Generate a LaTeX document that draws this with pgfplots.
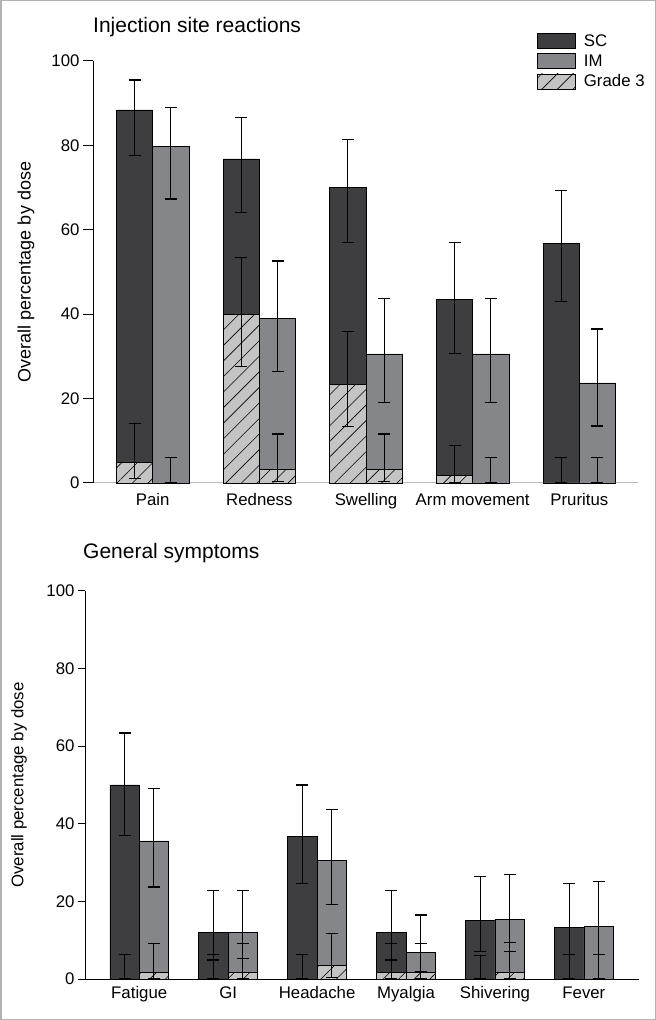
\documentclass[border=0pt]{standalone}
\usepackage{fontspec}
\setmainfont{Liberation Sans}
\usepackage{pgfplots}
\pgfplotsset{compat=1.18}
\usepackage{pgfplotstable}
\usetikzlibrary{patterns.meta}

\definecolor{scc}{HTML}{3E3E40}
\definecolor{imc}{HTML}{858689}
\definecolor{g3c}{HTML}{C4C4C4}

% sc / im = all grades, ga / gb = grade 3 (SC / IM); hi, lo = error bar ends
\pgfplotstableread{
x sc schi sclo im imhi imlo ga gahi galo gb gbhi gblo
0 88.4 95.5 77.5 79.8 89.0 67.3 4.8 14.0 1.0 0 6.0 0
1 76.8 86.7 64.0 39.0 52.6 26.5 40.0 53.5 27.5 3.3 11.6 0.3
2 70.1 81.5 56.9 30.6 43.8 19.0 23.3 36.0 13.3 3.3 11.6 0.3
3 43.4 56.9 30.6 30.6 43.8 19.0 1.7 8.8 0 0 6.0 0
4 56.7 69.4 43.1 23.7 36.5 13.5 0 6.0 0 0 6.0 0
}\injtab

\pgfplotstableread{
x sc schi sclo im imhi imlo ga gahi galo gb gbhi gblo
0 50.0 63.4 36.9 35.6 49.2 23.7 0 6.2 0 1.6 9.1 0
1 11.9 22.7 4.9 12.1 22.9 5.2 0 6.2 0 1.6 9.1 0
2 36.8 50.0 24.7 30.6 43.8 19.3 0 6.2 0 3.5 11.8 0.4
3 11.9 22.7 4.9 6.9 16.5 1.8 1.6 9.1 0 1.6 9.1 0
4 15.2 26.5 7.0 15.4 27.0 7.2 0 6.0 0 1.6 9.3 0
5 13.4 24.7 6.2 13.6 25.2 6.2 0 6.2 0 0 6.2 0
}\gentab

\newcommand\lblfont{\fontsize{16.8bp}{19bp}\selectfont}

\pgfplotsset{
  bars/.style={ybar, bar shift=0pt, draw=black, line width=0.7bp, forget plot},
  hatch/.style={bars, fill=g3c, postaction={pattern={Lines[angle=45,distance=11bp,line width=0.6bp]}, pattern color=black}},
  ebars/.style={draw=none, mark=none, forget plot, error bars/.cd, y dir=both, y explicit,
    error bar style={draw=black, line width=1.1bp},
    error mark options={rotate=90, mark size=6bp, draw=black, line width=1.1bp}},
  panel/.style={scale only axis, anchor=south west, clip=false,
    ymin=0, ymax=100, ytick={0,20,...,100},
    axis x line*=bottom, axis y line*=left,
    axis line style={-, line width=1bp},
    ytick align=outside, xtick align=inside,
    x tick style={draw=none}, y tick style={black, line width=1bp},
    tick label style={font=\lblfont},
    /pgf/number format/assume math mode=true,
    ylabel={Overall percentage by dose}},
}

\newcommand\drawpanel[2]{%
  \addplot[bars, fill=scc] table[x expr=\thisrow{x}-#2, y=sc] {#1};
  \addplot[bars, fill=imc] table[x expr=\thisrow{x}+#2, y=im] {#1};
  \addplot[hatch] table[x expr=\thisrow{x}-#2, y=ga] {#1};
  \addplot[hatch] table[x expr=\thisrow{x}+#2, y=gb] {#1};
  \addplot[ebars] table[x expr=\thisrow{x}-#2, y=sc,
    y error plus expr=\thisrow{schi}-\thisrow{sc}, y error minus expr=\thisrow{sc}-\thisrow{sclo}] {#1};
  \addplot[ebars] table[x expr=\thisrow{x}+#2, y=im,
    y error plus expr=\thisrow{imhi}-\thisrow{im}, y error minus expr=\thisrow{im}-\thisrow{imlo}] {#1};
  \addplot[ebars] table[x expr=\thisrow{x}-#2, y=ga,
    y error plus expr=\thisrow{gahi}-\thisrow{ga}, y error minus expr=\thisrow{ga}-\thisrow{galo}] {#1};
  \addplot[ebars] table[x expr=\thisrow{x}+#2, y=gb,
    y error plus expr=\thisrow{gbhi}-\thisrow{gb}, y error minus expr=\thisrow{gb}-\thisrow{gblo}] {#1};
}

\begin{document}
\begin{tikzpicture}
\useasboundingbox (0,0) rectangle (656bp,1020bp);
\draw[gray!60, line width=1.5bp] (0.75bp,0.75bp) rectangle (655.25bp,1019.25bp);

\node[anchor=base west, font=\fontsize{21bp}{24bp}\selectfont, inner sep=0pt] at (93bp,987bp) {Injection site reactions};
\node[anchor=base west, font=\fontsize{21bp}{24bp}\selectfont, inner sep=0pt] at (83bp,461bp) {General symptoms};

% injection site reactions
\begin{axis}[panel,
    at={(93bp,537bp)}, width=545bp, height=422bp,
    xmin=-0.56, xmax=4.55, bar width=0.34,
    major tick length=10bp,
    x axis line style={gray!55},
    xtick={0,...,4},
    xticklabels={Pain, Redness, Swelling, Arm movement, Pruritus},
    xticklabel style={yshift=-7bp},
    every axis y label/.style={at={(axis description cs:-0.123,0.5)}, rotate=90, anchor=center,
      font=\fontsize{18bp}{20bp}\selectfont},
    legend style={draw=none, fill=none, at={(axis description cs:0.8147,1.0664)}, anchor=north west,
      inner sep=0pt, font=\lblfont, row sep=4.5bp, column sep=7bp, nodes={inner sep=1bp}},
    legend cell align=left]
  \addlegendimage{legend image code/.code={\draw[fill=scc, draw=black, line width=0.7bp] (0bp,-7.5bp) rectangle (38bp,7.5bp);}}
  \addlegendentry{SC}
  \addlegendimage{legend image code/.code={\draw[fill=imc, draw=black, line width=0.7bp] (0bp,-7.5bp) rectangle (38bp,7.5bp);}}
  \addlegendentry{IM}
  \addlegendimage{legend image code/.code={\draw[fill=g3c, draw=black, line width=0.7bp, postaction={pattern={Lines[angle=45,distance=11bp,line width=0.6bp]}, pattern color=black}] (0bp,-7.5bp) rectangle (38bp,7.5bp);}}
  \addlegendentry{Grade 3}
  \drawpanel{\injtab}{0.17}
\end{axis}

% general symptoms
\begin{axis}[panel,
    at={(85bp,41bp)}, width=554bp, height=388bp,
    xmin=-0.61, xmax=5.62, bar width=0.33,
    major tick length=7bp,
    xtick={0,...,5},
    xticklabels={Fatigue, GI, Headache, Myalgia, Shivering, Fever},
    xticklabel style={yshift=-4bp},
    every axis y label/.style={at={(axis description cs:-0.119,0.5)}, rotate=90, anchor=center,
      font=\fontsize{16.8bp}{19bp}\selectfont}]
  \drawpanel{\gentab}{0.165}
\end{axis}
\end{tikzpicture}
\end{document}
